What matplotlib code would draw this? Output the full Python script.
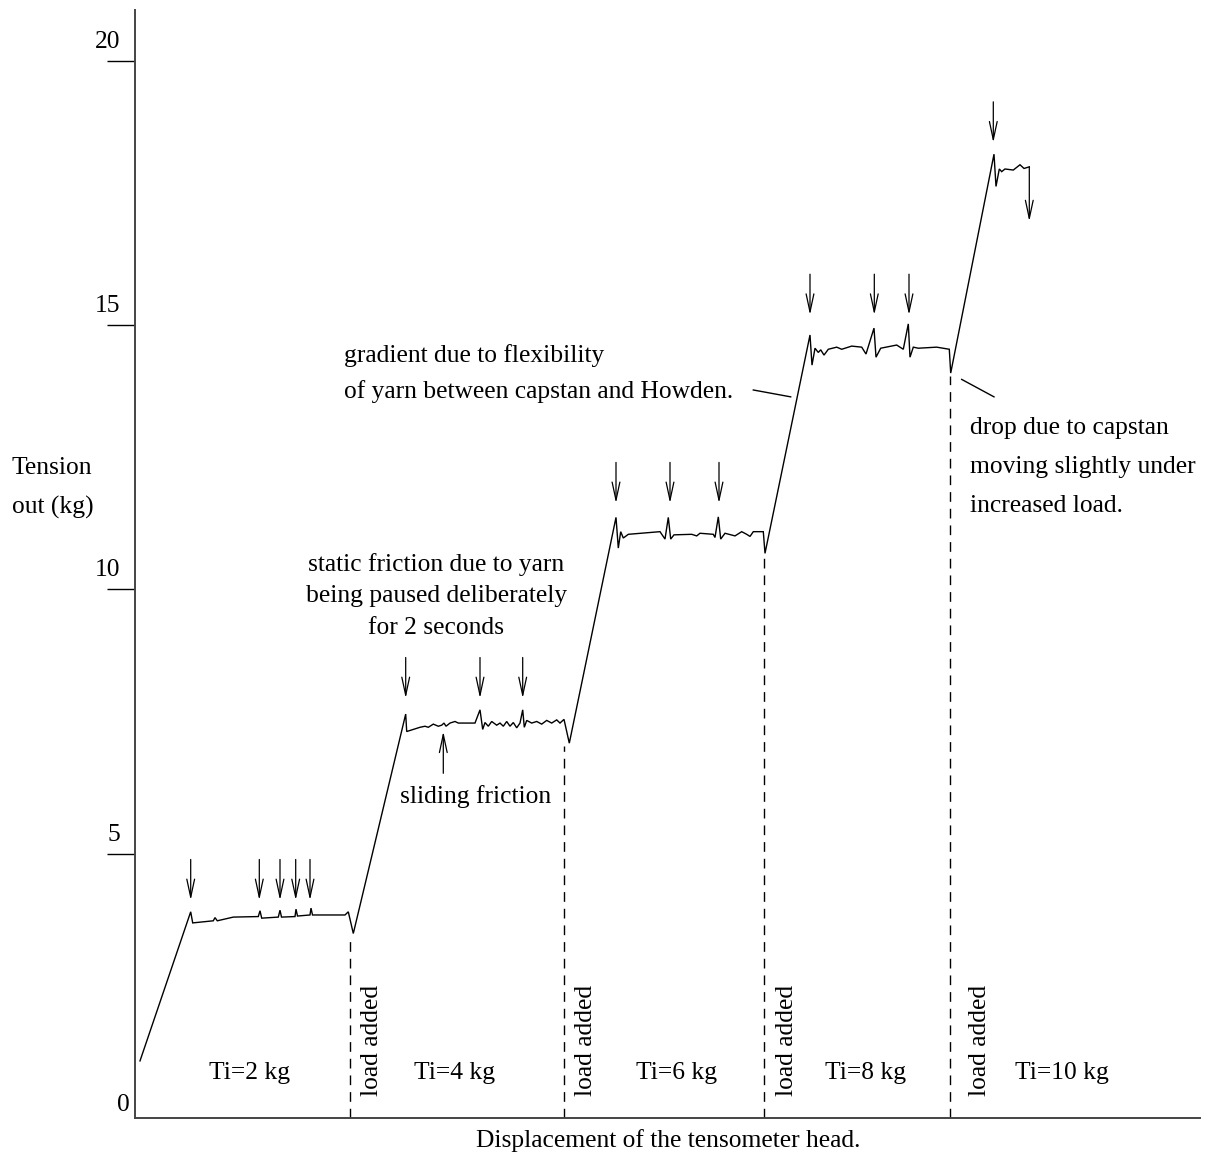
import matplotlib
matplotlib.use("Agg")
import matplotlib.pyplot as plt
import numpy as np

plt.rcParams['font.family'] = ['Liberation Serif', 'DejaVu Serif']
FS = 18.4

# trace of the tensometer, one piece per load step (displacement, tension kg)
step2_x = [0.5, 5.57, 5.77, 7.83, 8.0, 8.23, 9.83, 12.33, 12.5, 12.67, 14.33, 14.5, 14.65,
           16.0, 16.1, 16.25, 17.5, 17.6, 17.75, 21.0, 21.33, 21.83]
step2_y = [1.08, 3.90, 3.69, 3.73, 3.79, 3.73, 3.80, 3.81, 3.92, 3.78, 3.80, 3.93, 3.80,
           3.81, 3.95, 3.82, 3.84, 3.97, 3.84, 3.84, 3.90, 3.49]

step4_x = [27.07, 27.17, 28.5, 29.0, 29.33, 29.83, 30.33, 30.67, 30.9, 31.1, 31.5, 32.0, 32.33,
           34.0, 34.5, 34.77, 35.0, 35.33, 35.67, 36.17, 36.5, 36.83, 37.17, 37.5, 37.83, 38.17,
           38.5, 38.77, 38.93, 39.17, 39.67, 40.17, 40.67, 41.17, 41.67, 42.17, 42.5, 42.9, 43.43]
step4_y = [7.64, 7.31, 7.39, 7.41, 7.39, 7.45, 7.41, 7.43, 7.47, 7.41, 7.47, 7.50, 7.47,
           7.47, 7.72, 7.35, 7.48, 7.41, 7.50, 7.43, 7.47, 7.41, 7.50, 7.41, 7.48, 7.38,
           7.47, 7.72, 7.39, 7.52, 7.47, 7.50, 7.45, 7.52, 7.47, 7.53, 7.47, 7.54, 7.09]

step6_x = [48.1, 48.33, 48.57, 48.83, 49.33, 52.5, 53.0, 53.33, 53.57, 53.9, 55.67, 56.17, 56.5,
           57.83, 58.0, 58.33, 58.57, 59.0, 60.0, 60.67, 61.17, 61.5, 61.83, 62.83, 63.0]
step6_y = [11.36, 10.78, 11.09, 10.97, 11.04, 11.09, 10.95, 11.36, 10.95, 11.03, 11.04, 11.01, 11.06,
           11.04, 10.98, 11.37, 10.95, 11.06, 11.01, 11.09, 11.04, 11.0, 11.09, 11.09, 10.68]

step8_x = [67.5, 67.7, 68.0, 68.33, 68.57, 68.9, 69.33, 70.17, 70.67, 71.67, 72.67, 73.1, 73.9,
           74.1, 74.57, 76.17, 76.83, 77.33, 77.5, 77.83, 78.33, 80.17, 81.43, 81.57]
step8_y = [14.81, 14.24, 14.56, 14.48, 14.53, 14.43, 14.54, 14.58, 14.54, 14.60, 14.58, 14.45, 14.94,
           14.39, 14.56, 14.62, 14.54, 15.02, 14.39, 14.58, 14.56, 14.58, 14.54, 14.09]

step10_x = [85.9, 86.1, 86.43, 86.67, 87.0, 87.83, 88.5, 88.9, 89.43]
step10_y = [18.23, 17.62, 17.95, 17.90, 17.95, 17.93, 18.03, 17.96, 17.99]
final_drop = 16.96

# static friction arrows (x, tip y)
stick_x = [5.57, 12.43, 14.5, 16.07, 17.5, 27.07, 34.5, 38.77, 48.1, 53.5, 58.4,
           67.5, 73.93, 77.4, 85.83]
stick_tip = [4.12] * 5 + [7.94] * 3 + [11.63] * 3 + [15.19] * 3 + [18.45]
arrow_len = 0.77

# load additions
load_x = [21.5, 42.9, 62.9, 81.5]
load_dip = [3.49, 7.09, 10.68, 14.09]
load_label_x = [23.7, 45.1, 65.2, 84.5]
ti_labels = ["Ti=2 kg", "Ti=4 kg", "Ti=6 kg", "Ti=8 kg", "Ti=10 kg"]
ti_x = [11.5, 32.0, 54.2, 73.1, 92.7]

yticks = [5, 10, 15, 20]

fig = plt.figure(figsize=(12.08, 11.63), dpi=100)
ax = fig.add_axes([135 / 1208, 45 / 1163, 1065 / 1208, 1108 / 1163])
ax.set_xlim(0, 106.5)
ax.set_ylim(0, 1108 / 52.87)

trace_x = step2_x + step4_x + step6_x + step8_x + step10_x
trace_y = step2_y + step4_y + step6_y + step8_y + step10_y
ax.plot(trace_x, trace_y, color='black', lw=1.0, solid_joinstyle='miter')

arrow_kw = dict(arrowstyle='->,head_length=13,head_width=2.8', color='black', lw=0.9,
                mutation_scale=1, shrinkA=0, shrinkB=0)
ax.annotate('', xy=(step10_x[-1], final_drop), xytext=(step10_x[-1], step10_y[-1]),
            arrowprops=arrow_kw)
for x, tip in zip(stick_x, stick_tip):
    ax.annotate('', xy=(x, tip), xytext=(x, tip + arrow_len), arrowprops=arrow_kw)

# sliding friction arrow
ax.annotate('', xy=(30.83, 7.31), xytext=(30.83, 6.52), arrowprops=arrow_kw)
ax.text(34.1, 6.08, 'sliding friction', ha='center', va='center', fontsize=FS)

for x, dip in zip(load_x, load_dip):
    ax.plot([x, x], [0, dip - 0.05], color='black', lw=1.0, ls=(0, (7, 5)))
for x in load_label_x:
    ax.text(x, 1.47, 'load added', rotation=90, ha='center', va='center', fontsize=FS)
for x, lab in zip(ti_x, ti_labels):
    ax.text(x, 0.85, lab, ha='center', va='center', fontsize=FS)


def block(x, y, lines, gap, ha):
    for i, line in enumerate(lines):
        ax.annotate(line, xy=(x, y), xytext=(0, -i * gap), textcoords='offset pixels',
                    ha=ha, va='center', fontsize=FS)


block(30.15, 10.46, ['static friction due to yarn', 'being paused deliberately',
                     'for 2 seconds'], 31.5, 'center')
block(20.9, 14.43, ['gradient due to flexibility',
                    'of yarn between capstan and Howden.'], 36.7, 'left')
block(83.55, 13.05, ['drop due to capstan', 'moving slightly under',
                     'increased load.'], 39, 'left')

# pointer lines
ax.plot([61.83, 65.57], [13.77, 13.64], color='black', lw=1.0)
ax.plot([82.67, 85.9], [13.97, 13.64], color='black', lw=1.0)

# axes look
for s in ['top', 'right']:
    ax.spines[s].set_visible(False)
for s in ['left', 'bottom']:
    ax.spines[s].set_color('#444444')
    ax.spines[s].set_linewidth(1.4)
ax.set_xticks([])
ax.set_yticks(yticks)
ax.tick_params(axis='y', direction='out', length=20.2, width=1.0, color='black',
               labelleft=False)
for v in yticks:
    ax.annotate(str(v), xy=(0, v), xycoords=ax.get_yaxis_transform(),
                xytext=(-15, 19), textcoords='offset pixels',
                ha='right', va='center', fontsize=FS)
ax.annotate('0', xy=(0, 0), xycoords=ax.get_yaxis_transform(),
            xytext=(-5, 13), textcoords='offset pixels', ha='right', va='center', fontsize=FS)

fig.text(12 / 1208, 1 - 468 / 1163, 'Tension', ha='left', va='center', fontsize=FS)
fig.text(12 / 1208, 1 - 507 / 1163, 'out (kg)', ha='left', va='center', fontsize=FS)
fig.text(668 / 1208, 1 - 1141 / 1163, 'Displacement of the tensometer head.',
         ha='center', va='center', fontsize=FS)

fig.savefig('out.png', dpi=100)
